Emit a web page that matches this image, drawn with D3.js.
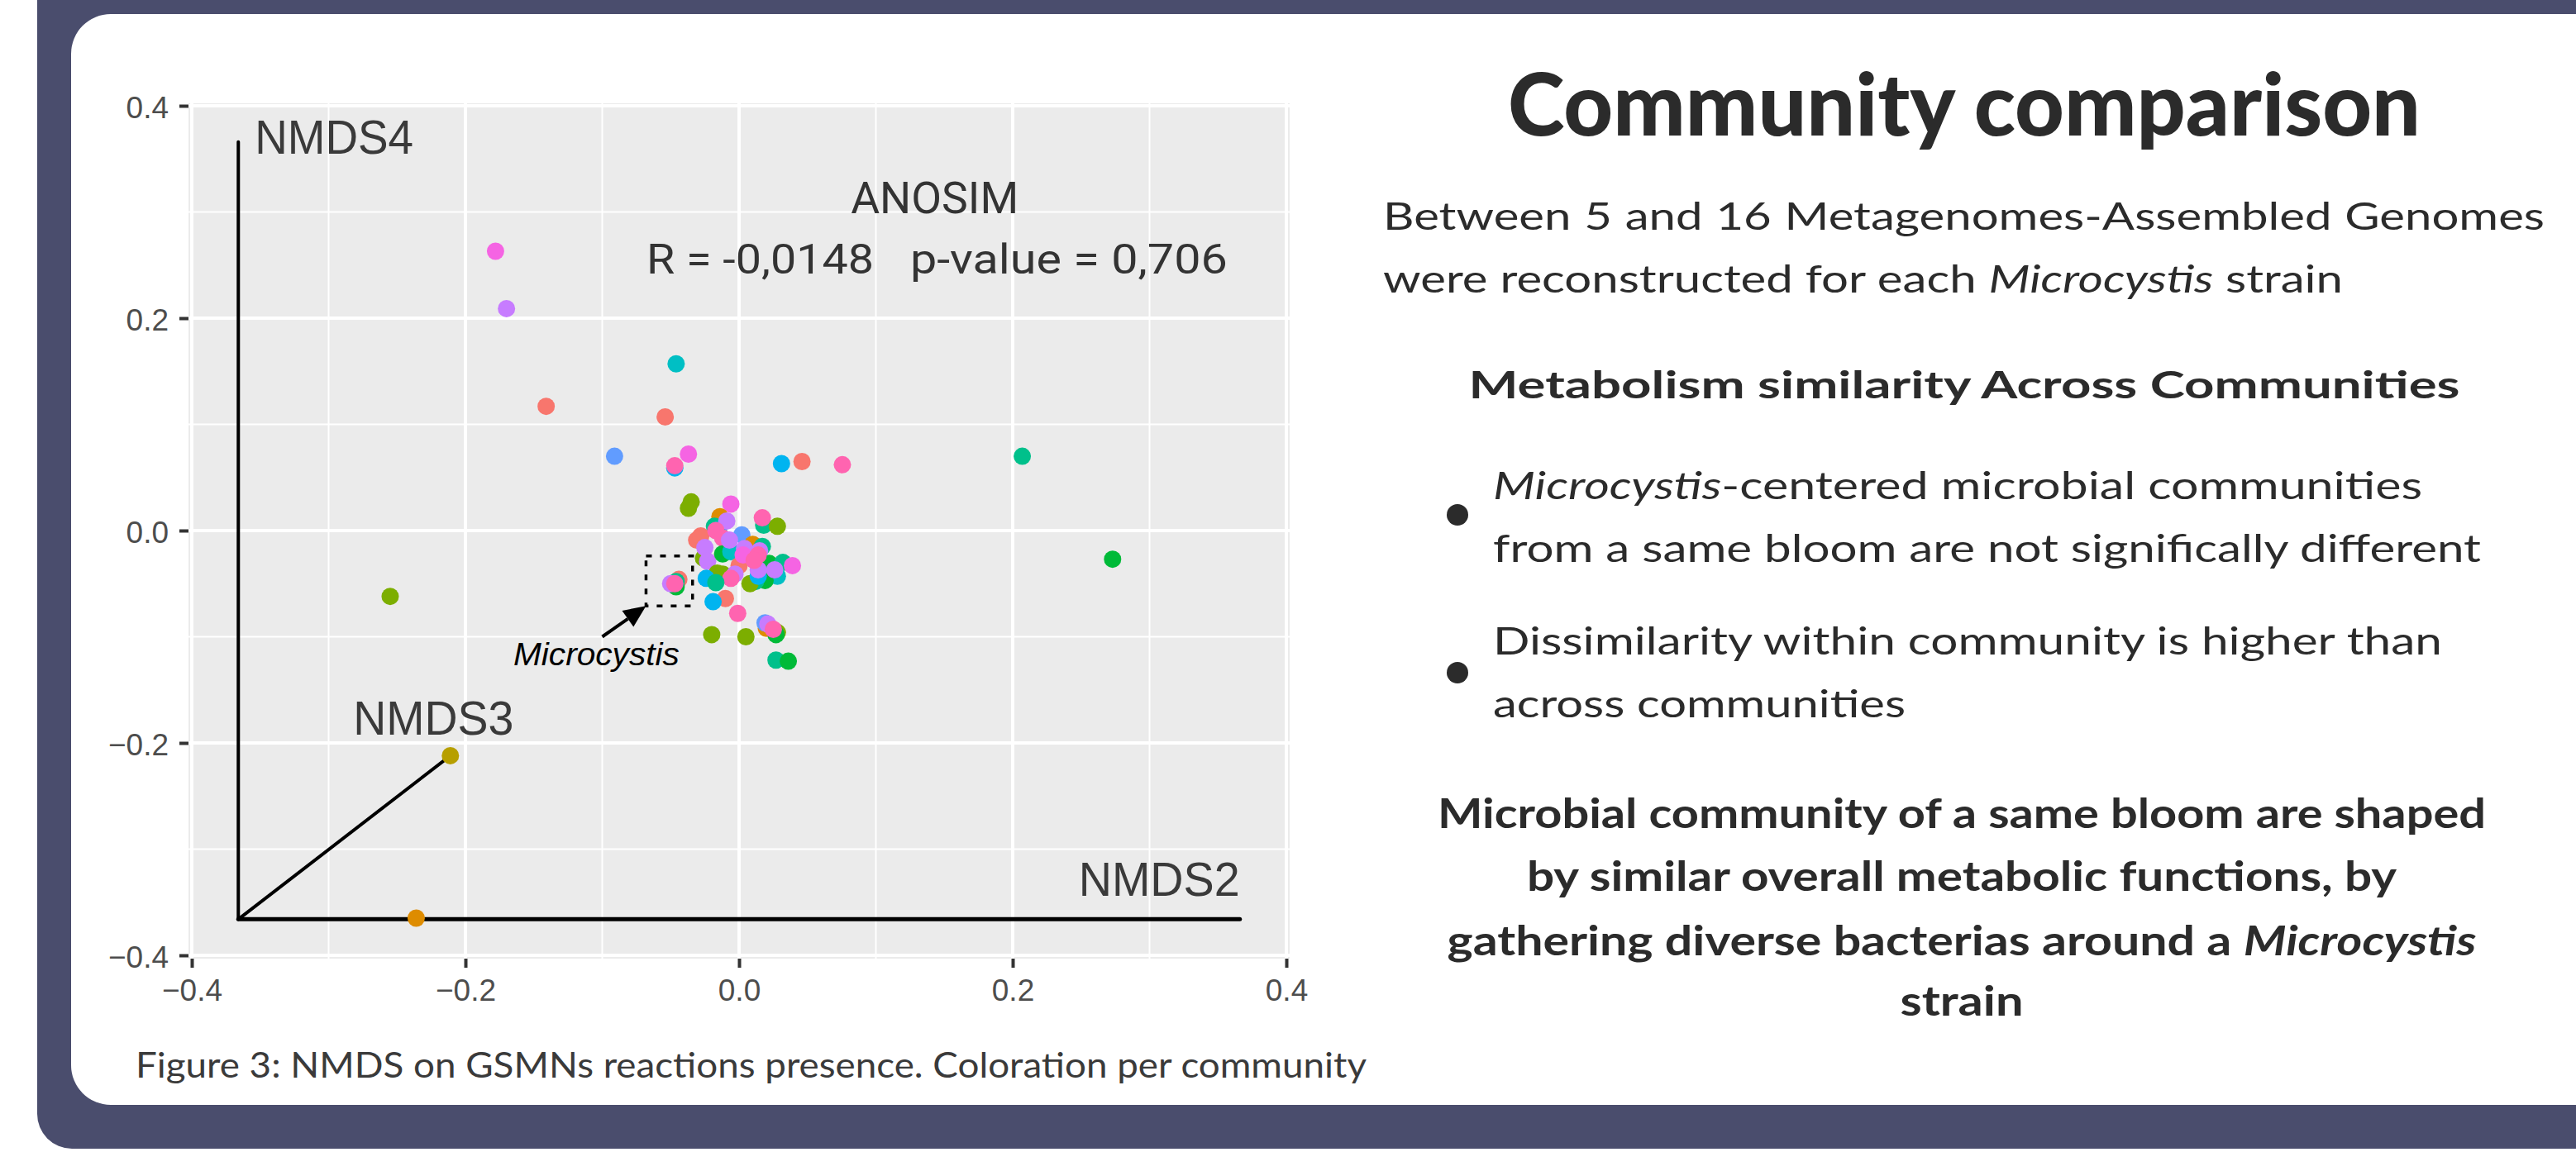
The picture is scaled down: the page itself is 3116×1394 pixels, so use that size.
<!DOCTYPE html>
<html>
<head>
<meta charset="utf-8">
<script src="https://cdn.jsdelivr.net/npm/d3@7"></script>
<style>
    html, body { margin: 0; padding: 0; background: #ffffff; }
    svg { display: block; }
</style>
</head>
<body>
<svg id="poster" width="3116" height="1394"></svg>
<script>
// 12 communities (one per bloom), ggplot default hue palette
var communities = ["C1", "C2", "C3", "C4", "C5", "C6", "C7", "C8", "C9", "C10", "C11", "C12"];
var communityColors = ["#F8766D", "#DE8C00", "#B79F00", "#7CAE00", "#00BA38", "#00C08B",
    "#00BFC4", "#00B4F0", "#619CFF", "#C77CFF", "#F564E3", "#FF64B0"];

// NMDS coordinates of each GSMN
var nmds2 = [-0.178, -0.170, -0.046, -0.141, -0.054, -0.091, -0.037, -0.047, -0.047, 0.031,
    0.046, 0.0755, 0.207, 0.273, -0.255, -0.211, -0.236,
    -0.035, -0.037, -0.006, -0.014, 0.018, 0.028, 0.017, -0.018, -0.015, -0.009,
    -0.031, -0.028, 0.002, -0.017, -0.012, -0.026, -0.025, -0.023, -0.012, -0.006,
    -0.007, 0.010, 0.017, 0.000, 0.004, 0.015, 0.022, 0.032, 0.028, 0.019,
    0.012, 0.008, 0.014, 0.014, 0.026, 0.039, 0.003, 0.014, 0.011, -0.016,
    -0.012, -0.003, -0.006, -0.024, -0.017, -0.044, -0.046, -0.046, -0.050, -0.047,
    -0.010, -0.019, -0.001, 0.020, 0.028, 0.027, 0.019, 0.021, 0.025, -0.020,
    0.005, 0.027, 0.036];
var nmds4 = [0.263, 0.209, 0.157, 0.117, 0.107, 0.070, 0.072, 0.059, 0.061, 0.063,
    0.065, 0.062, 0.070, -0.027, -0.062, -0.212, -0.365,
    0.027, 0.021, 0.025, 0.013, 0.005, 0.004, 0.012, 0.004, 0.001, 0.009,
    -0.009, -0.005, -0.004, 0.000, -0.007, -0.026, -0.016, -0.029, -0.022, -0.020,
    -0.009, -0.013, -0.015, -0.033, -0.017, -0.019, -0.031, -0.030, -0.043, -0.047,
    -0.048, -0.050, -0.043, -0.037, -0.037, -0.033, -0.023, -0.023, -0.028, -0.040,
    -0.041, -0.041, -0.045, -0.045, -0.049, -0.046, -0.053, -0.048, -0.050, -0.050,
    -0.064, -0.067, -0.078, -0.092, -0.096, -0.098, -0.087, -0.088, -0.093, -0.098,
    -0.100, -0.122, -0.123];
var pointCommunity = [10, 9, 6, 0, 0, 8, 10, 7, 11, 7,
    0, 11, 5, 4, 3, 2, 1,
    3, 3, 10, 1, 5, 3, 11, 5, 6, 9,
    0, 0, 8, 11, 11, 3, 9, 9, 4, 6,
    9, 1, 5, 0, 9, 9, 4, 5, 6, 4,
    5, 3, 7, 9, 9, 10, 10, 11, 11, 3,
    3, 9, 11, 7, 5, 0, 4, 5, 9, 11,
    0, 7, 11, 1, 3, 4, 8, 9, 11, 3,
    3, 5, 4];

var majorTicks = [-0.4, -0.2, 0, 0.2, 0.4];
var minorTicks = [-0.3, -0.1, 0.1, 0.3];

// ordination axes drawn as a small 3D frame
var frameOrigin = [-0.366, -0.366];
var frameEnds = [[0.366, -0.366], [-0.366, 0.366], [-0.211, -0.212]];
var frameNames = ["NMDS2", "NMDS4", "NMDS3"];

var anosimR = "-0,0148";
var anosimP = "0,706";

// Microcystis genomes box + arrow
var microBox = [[-0.068, -0.071], [-0.034, -0.024]];
var microArrowFrom = [-0.100, -0.100];

var svg = d3.select("#poster");
var ink = "#2b2b2b";
var plotFont = "'Liberation Sans', Arial, sans-serif";
var textFont = "Lato, 'Open Sans', sans-serif";

// ---------- background card ----------
svg.append("rect")
    .attr("x", 45).attr("y", -100)
    .attr("width", 3300).attr("height", 1490)
    .attr("rx", 42)
    .attr("fill", "#4a4d6d");
svg.append("rect")
    .attr("x", 86).attr("y", 17)
    .attr("width", 3300).attr("height", 1320)
    .attr("rx", 48)
    .attr("fill", "#ffffff");

// ---------- NMDS plot ----------
var x = d3.scaleLinear().domain([-0.4, 0.4]).range([232, 1556]);
var y = d3.scaleLinear().domain([-0.4, 0.4]).range([1156, 128]);

var plot = svg.append("g").attr("id", "nmds");

var panelLeft = x(-0.4) - 4, panelRight = x(0.4) + 4,
    panelTop = y(0.4) - 3, panelBottom = y(-0.4) + 4;

plot.append("rect")
    .attr("x", panelLeft).attr("y", panelTop)
    .attr("width", panelRight - panelLeft).attr("height", panelBottom - panelTop)
    .attr("fill", "#EBEBEB");

var grid = plot.append("g").attr("id", "grid");
grid.selectAll("line.vminor").data(minorTicks).enter().append("line")
    .attr("x1", function (d) { return x(d); }).attr("x2", function (d) { return x(d); })
    .attr("y1", panelTop).attr("y2", panelBottom)
    .attr("stroke", "#ffffff").attr("stroke-width", 2);
grid.selectAll("line.hminor").data(minorTicks).enter().append("line")
    .attr("y1", function (d) { return y(d); }).attr("y2", function (d) { return y(d); })
    .attr("x1", panelLeft).attr("x2", panelRight)
    .attr("stroke", "#ffffff").attr("stroke-width", 2);
grid.selectAll("line.vmajor").data(majorTicks).enter().append("line")
    .attr("x1", function (d) { return x(d); }).attr("x2", function (d) { return x(d); })
    .attr("y1", panelTop).attr("y2", panelBottom)
    .attr("stroke", "#ffffff").attr("stroke-width", 4);
grid.selectAll("line.hmajor").data(majorTicks).enter().append("line")
    .attr("y1", function (d) { return y(d); }).attr("y2", function (d) { return y(d); })
    .attr("x1", panelLeft).attr("x2", panelRight)
    .attr("stroke", "#ffffff").attr("stroke-width", 4);

var xAxis = plot.append("g")
    .attr("transform", "translate(0," + panelBottom + ")")
    .call(d3.axisBottom(x).tickValues(majorTicks).tickFormat(d3.format(".1f"))
        .tickSize(11).tickPadding(14));
var yAxis = plot.append("g")
    .attr("transform", "translate(" + panelLeft + ",0)")
    .call(d3.axisLeft(y).tickValues(majorTicks).tickFormat(d3.format(".1f"))
        .tickSize(11).tickPadding(13));

[xAxis, yAxis].forEach(function (a) {
    a.select(".domain").remove();
    a.selectAll(".tick line").attr("stroke", "#333333").attr("stroke-width", 4);
    a.selectAll(".tick text")
        .attr("fill", "#4d4d4d")
        .style("font-family", plotFont)
        .style("font-size", "37px");
});
yAxis.selectAll(".tick text").attr("dy", "0.38em");

// the 3D-ish frame of NMDS axes
plot.append("g").attr("id", "frame")
    .selectAll("line")
    .data(frameEnds)
    .enter()
    .append("line")
    .attr("x1", x(frameOrigin[0])).attr("y1", y(frameOrigin[1]))
    .attr("x2", function (d) { return x(d[0]); })
    .attr("y2", function (d) { return y(d[1]); })
    .attr("stroke", "#000000")
    .attr("stroke-width", function (d, i) { return i == 0 ? 5 : 4; })
    .attr("stroke-linecap", "round");

var points = d3.range(nmds2.length).map(function (i) {
    return {"x": nmds2[i], "y": nmds4[i], "community": communities[pointCommunity[i]], "c": pointCommunity[i]};
});

plot.append("g").attr("id", "genomes")
    .selectAll("circle")
    .data(points)
    .enter()
    .append("circle")
    .attr("cx", function (d) { return x(d.x); })
    .attr("cy", function (d) { return y(d.y); })
    .attr("r", 10.5)
    .attr("fill", function (d) { return communityColors[d.c]; });

// axis names next to the frame
var nameSpots = [
    {"x": 0.366, "y": -0.344, "anchor": "end", "w": 195},
    {"x": -0.354, "y": 0.3546, "anchor": "start", "w": 192},
    {"x": -0.282, "y": -0.192, "anchor": "start", "w": 194}
];
plot.append("g").selectAll("text")
    .data(frameNames)
    .enter()
    .append("text")
    .attr("x", function (d, i) { return x(nameSpots[i].x); })
    .attr("y", function (d, i) { return y(nameSpots[i].y); })
    .attr("text-anchor", function (d, i) { return nameSpots[i].anchor; })
    .attr("textLength", function (d, i) { return nameSpots[i].w; })
    .attr("lengthAdjust", "spacingAndGlyphs")
    .attr("fill", "#3a3a3a")
    .style("font-family", plotFont)
    .style("font-size", "57px")
    .text(function (d) { return d; });

// ANOSIM result
plot.append("text")
    .attr("x", x(0.143)).attr("y", y(0.2986))
    .attr("text-anchor", "middle")
    .attr("textLength", 203).attr("lengthAdjust", "spacingAndGlyphs")
    .attr("fill", "#333333")
    .style("font-family", "Roboto, sans-serif").style("font-size", "53px")
    .text("ANOSIM");
plot.append("text")
    .attr("x", x(-0.0677)).attr("y", y(0.242))
    .attr("textLength", 275).attr("lengthAdjust", "spacingAndGlyphs")
    .attr("fill", "#333333")
    .style("font-family", "Roboto, sans-serif").style("font-size", "50px")
    .text("R = " + anosimR);
plot.append("text")
    .attr("x", x(0.125)).attr("y", y(0.242))
    .attr("textLength", 384).attr("lengthAdjust", "spacingAndGlyphs")
    .attr("fill", "#333333")
    .style("font-family", "Roboto, sans-serif").style("font-size", "50px")
    .text("p-value = " + anosimP);

// Microcystis box and arrow
plot.append("rect")
    .attr("x", x(microBox[0][0])).attr("y", y(microBox[1][1]))
    .attr("width", x(microBox[1][0]) - x(microBox[0][0]))
    .attr("height", y(microBox[0][1]) - y(microBox[1][1]))
    .attr("fill", "none")
    .attr("stroke", "#000000")
    .attr("stroke-width", 3.5)
    .attr("stroke-dasharray", "7,10");

var tip = [x(microBox[0][0]), y(microBox[0][1])],
    tail = [x(microArrowFrom[0]), y(microArrowFrom[1])];
var dx = tip[0] - tail[0], dy = tip[1] - tail[1], len = Math.sqrt(dx * dx + dy * dy);
var ux = dx / len, uy = dy / len, headL = 27, headW = 12;
var base = [tip[0] - ux * headL, tip[1] - uy * headL];

plot.append("line")
    .attr("x1", tail[0]).attr("y1", tail[1])
    .attr("x2", base[0]).attr("y2", base[1])
    .attr("stroke", "#000000").attr("stroke-width", 4);
plot.append("path")
    .attr("d", "M" + tip[0] + "," + tip[1] +
        "L" + (base[0] - uy * headW) + "," + (base[1] + ux * headW) +
        "L" + (base[0] + uy * headW) + "," + (base[1] - ux * headW) + "Z")
    .attr("fill", "#000000");

plot.append("text")
    .attr("x", x(-0.165)).attr("y", y(-0.127))
    .attr("textLength", 201).attr("lengthAdjust", "spacingAndGlyphs")
    .attr("fill", "#000000")
    .style("font-family", plotFont).style("font-size", "38px").style("font-style", "italic")
    .text("Microcystis");

// caption
svg.append("text")
    .attr("x", 164).attr("y", 1304)
    .attr("textLength", 1489).attr("lengthAdjust", "spacingAndGlyphs")
    .attr("fill", "#3a3a3a")
    .style("font-family", textFont).style("font-size", "43px")
    .text("Figure 3: NMDS on GSMNs reactions presence. Coloration per community");

// ---------- text column ----------
var side = svg.append("g").attr("id", "text");

function addLine(parts, o) {
    var t = side.append("text")
        .attr("x", o.x).attr("y", o.y)
        .attr("text-anchor", o.anchor || "start")
        .attr("fill", ink)
        .style("font-family", textFont)
        .style("font-size", o.size + "px")
        .style("font-weight", o.weight || 400);
    parts.forEach(function (p) {
        t.append("tspan")
            .style("font-style", p[1] ? "italic" : "normal")
            .text(p[0]);
    });
    if (o.justify) {
        // glyphs stretched like the other lines, the rest goes into the word gaps
        var natural = t.node().getComputedTextLength();
        var gaps = parts.map(function (p) { return p[0]; }).join("").split(" ").length - 1;
        t.style("word-spacing", ((o.w / o.stretch - natural) / gaps) + "px");
        t.attr("textLength", o.w).attr("lengthAdjust", "spacingAndGlyphs");
    } else if (o.w) {
        t.attr("textLength", o.w).attr("lengthAdjust", "spacingAndGlyphs");
    }
    return t;
}

addLine([["Community comparison"]], {x: 2376, y: 164, anchor: "middle", size: 104, weight: 900, w: 1104});

var second = addLine([["were reconstructed for each "], ["Microcystis", true], [" strain"]], {x: 1673, y: 354, size: 46});
var bodyStretch = 1161 / second.node().getComputedTextLength();
second.attr("textLength", 1161).attr("lengthAdjust", "spacingAndGlyphs");
addLine([["Between 5 and 16 Metagenomes-Assembled Genomes"]], {x: 1673, y: 278, size: 46, justify: true, w: 1405, stretch: bodyStretch});

addLine([["Metabolism similarity Across Communities"]], {x: 2376, y: 482, anchor: "middle", size: 46, weight: 700, w: 1199});

addLine([["Microcystis", true], ["-centered microbial communities"]], {x: 1806, y: 604, size: 46, w: 1124});
addLine([["from a same bloom are not significally different"]], {x: 1806, y: 680, size: 46, w: 1195});
addLine([["Dissimilarity within community is higher than"]], {x: 1806, y: 792, size: 46, w: 1148});
addLine([["across communities"]], {x: 1806, y: 868, size: 46, w: 499});

side.selectAll("circle.bullet")
    .data([623, 814])
    .enter()
    .append("circle")
    .attr("class", "bullet")
    .attr("cx", 1763).attr("cy", function (d) { return d; })
    .attr("r", 13)
    .attr("fill", ink);

addLine([["Microbial community of a same bloom are shaped"]], {x: 2373, y: 1002, anchor: "middle", size: 50, weight: 700, w: 1268});
addLine([["by similar overall metabolic functions, by"]], {x: 2373, y: 1078, anchor: "middle", size: 50, weight: 700, w: 1052});
addLine([["gathering diverse bacterias around a "], ["Microcystis", true]], {x: 2373, y: 1156, anchor: "middle", size: 50, weight: 700, w: 1245});
addLine([["strain"]], {x: 2373, y: 1229, anchor: "middle", size: 50, weight: 700, w: 149});
</script>
</body>
</html>
